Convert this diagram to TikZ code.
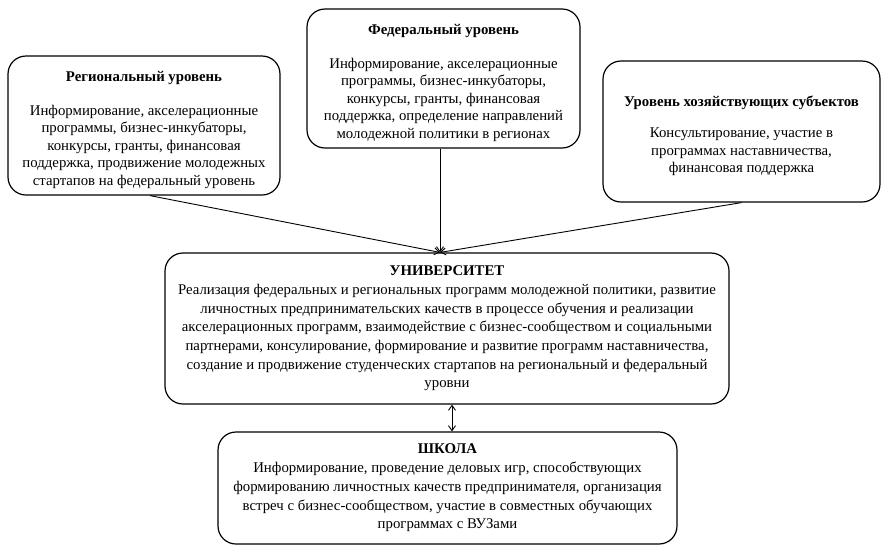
\documentclass[tikz,border=0pt]{standalone}
\usepackage{fontspec}
\setmainfont{Liberation Serif}
\usetikzlibrary{arrows.meta,calc}
\newcommand{\topstrut}{\rule{0pt}{19pt}}
\begin{document}
\begin{tikzpicture}[x=1pt,y=-1pt,
  box/.style={draw, line width=1.2pt, rounded corners=18pt, align=center, inner sep=0pt,
    font=\fontsize{14.8}{17.5}\selectfont},
  wide/.style={box, font=\fontsize{14.8}{18.7}\selectfont},
  link/.style={line width=0.9pt, -{Straight Barb[length=5pt,width=7pt]}},
  dlink/.style={line width=0.9pt, {Straight Barb[length=5pt,width=7pt]}-{Straight Barb[length=5pt,width=7pt]}}]
\useasboundingbox (0,0) rectangle (886,547);
\node[box, minimum width=272pt, minimum height=139pt] (reg) at (144,125.5)
  {\topstrut\textbf{Региональный уровень}\\[16pt]
   Информирование, акселерационные\\
   программы, бизнес-инкубаторы,\\
   конкурсы, гранты, финансовая\\
   поддержка, продвижение молодежных\\
   стартапов на федеральный уровень};
\node[box, minimum width=273pt, minimum height=139pt] (fed) at (443.5,78.5)
  {\topstrut\textbf{Федеральный уровень}\\[16pt]
   Информирование, акселерационные\\
   программы, бизнес-инкубаторы,\\
   конкурсы, гранты, финансовая\\
   поддержка, определение направлений\\
   молодежной политики в регионах};
\node[box, minimum width=277pt, minimum height=141pt] (bus) at (741.5,131.5)
  {\topstrut\textbf{Уровень хозяйствующих субъектов}\\[14pt]
   Консультирование, участие в\\
   программах наставничества,\\
   финансовая поддержка};
\node[wide, minimum width=564pt, minimum height=151pt] (uni) at (447,328.5)
  {\textbf{УНИВЕРСИТЕТ}\\
   Реализация федеральных и региональных программ молодежной политики, развитие\\
   личностных предпринимательских качеств в процессе обучения и реализации\\
   акселерационных программ, взаимодействие с бизнес-сообществом и социальными\\
   партнерами, консулирование, формирование и развитие программ наставничества,\\
   создание и продвижение студенческих стартапов на региональный и федеральный\\
   уровни};
\node[wide, minimum width=459pt, minimum height=112pt] (sch) at (447.5,488)
  {\textbf{ШКОЛА}\\
   Информирование, проведение деловых игр, способствующих\\
   формированию личностных качеств предпринимателя, организация\\
   встреч с бизнес-сообществом, участие в совместных обучающих\\
   программах с ВУЗами};
\coordinate (conv) at ($(uni.north)+(-7,0)$);
\draw[link] ([xshift=6pt]reg.south) -- (conv);
\draw[link] ([xshift=-3.5pt]fed.south) -- (conv);
\draw[link] (bus.south) -- (conv);
\draw[dlink] ([xshift=5pt]uni.south) -- ([xshift=4.5pt]sch.north);
\end{tikzpicture}
\end{document}
